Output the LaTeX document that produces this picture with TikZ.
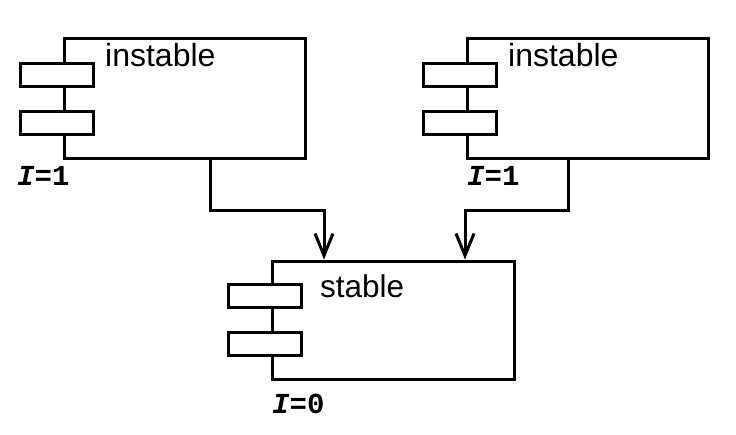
\documentclass[tikz,border=0pt]{standalone}
\usepackage{fontspec}
\setmainfont{Liberation Sans}
\newfontfamily\monof{Liberation Mono}
\usetikzlibrary{arrows.meta}
\begin{document}
\begin{tikzpicture}[x=1pt,y=-1pt,
  comp/.style={draw,line width=3pt,fill=white,inner sep=0pt,minimum width=241pt,minimum height=120pt},
  port/.style={draw,line width=3pt,fill=white,inner sep=0pt,minimum width=73pt,minimum height=23pt},
  lbl/.style={anchor=base west,inner sep=0pt,font=\fontsize{32}{38}\selectfont},
  inst/.style={anchor=base west,inner sep=0pt,font=\fontsize{29}{34}\selectfont\monof\bfseries},
  arr/.style={line width=3pt,-{Straight Barb[length=22pt,width=18pt,line width=3pt]}}]
\useasboundingbox (0,0) rectangle (736,434);
% left component
\node[comp] (L) at (184.5,98) {};
\node[port] (L1) at (56.5,74.5) {};
\node[port] (L2) at (56.5,122.5) {};
\node[lbl] (Lt) at (105,66) {instable};
\node[inst] (Li) at (17,185) {\itshape I\upshape=1};
% right component
\node[comp] (R) at (587.5,98) {};
\node[port] (R1) at (460,74.5) {};
\node[port] (R2) at (460,122.5) {};
\node[lbl] (Rt) at (508,66) {instable};
\node[inst] (Ri) at (467,185) {\itshape I\upshape=1};
% bottom component
\node[comp,minimum width=242pt,minimum height=118pt] (S) at (393,320) {};
\node[port] (S1) at (265,296) {};
\node[port] (S2) at (265,344) {};
\node[lbl,font=\fontsize{31.5}{38}\selectfont] (St) at (320,297) {stable};
\node[inst] (Si) at (272,413) {\itshape I\upshape=0};
% connectors
\coordinate (jl) at (210,210);
\coordinate (jr) at (568,210);
\draw[arr] ([xshift=25.5pt]L.south) -- (jl) -| ([xshift=-69pt]S.north);
\draw[arr] ([xshift=-19.5pt]R.south) -- (jr) -| ([xshift=72pt]S.north);
\end{tikzpicture}
\end{document}
